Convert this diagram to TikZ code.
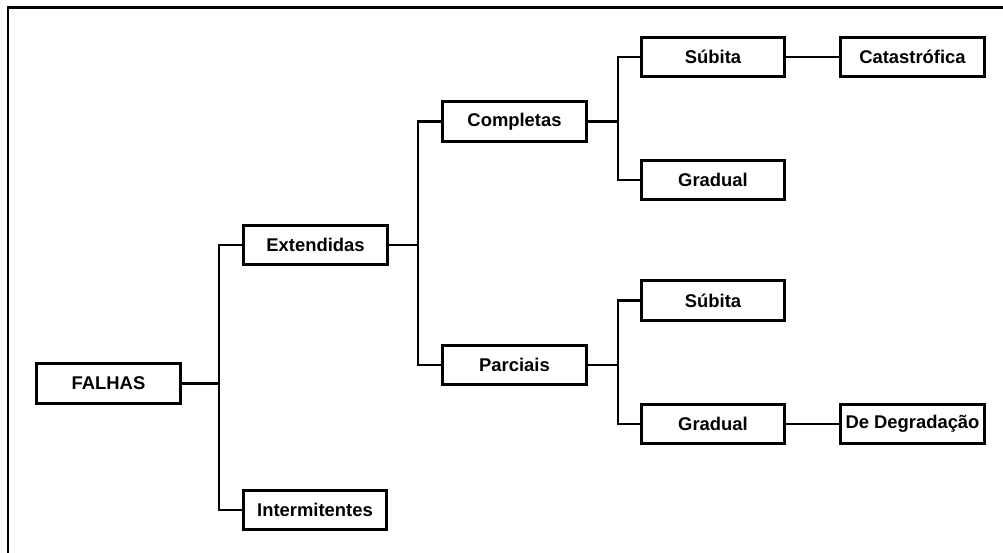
\documentclass[tikz,border=0pt]{standalone}
\usepackage{fontspec}
\setmainfont{Liberation Sans}
\begin{document}
\begin{tikzpicture}[x=1pt,y=-1pt,
  box/.style={draw=black,line width=2.6pt,fill=white,minimum width=143.5pt,minimum height=39.5pt,
    inner sep=0pt,font=\fontsize{18.4}{21}\selectfont\bfseries},
  wire/.style={draw=black,line width=2.4pt},
  frame/.style={draw=black,line width=2.8pt}]
  \useasboundingbox (0,0) rectangle (1003,552);
  \fill[white] (0,0) rectangle (1003,552);
  % outer frame (only top and left edges fall inside the page)
  \coordinate (fbl) at (8,556);
  \coordinate (ftl) at (8,7.5);
  \coordinate (ftr) at (1007,7.5);
  \draw[frame] (fbl) -- (ftl) -- (ftr);

  % boxes
  \node[box] (falhas) at (108.5,383.5) {FALHAS};
  \node[box] (ext)    at (315.5,245)   {Extendidas};
  \node[box] (inter)  at (315,510)     {Intermitentes};
  \node[box] (comp)   at (514.5,121.5) {Completas};
  \node[box] (parc)   at (514.5,365)   {Parciais};
  \node[box] (sub1)   at (713,57)      {Súbita};
  \node[box] (grad1)  at (713,180)     {Gradual};
  \node[box] (sub2)   at (713,300.5)   {Súbita};
  \node[box] (grad2)  at (713,424)     {Gradual};
  \node[box] (cat)    at (912.5,57)    {Catastrófica};
  \node[box] (deg)    at (912.5,424)   {De Degradação};

  % bus coordinates
  \coordinate (b1) at (219,0);
  \coordinate (b2) at (418,0);
  \coordinate (b3) at (618,0);

  % FALHAS branch
  \draw[wire] (falhas.east) -- (falhas.east -| b1);
  \draw[wire] (ext.west) -- (ext.west -| b1) |- (inter.west);

  % Extendidas branch
  \draw[wire] (ext.east) -- (ext.east -| b2);
  \draw[wire] (comp.west) -- (comp.west -| b2) |- (parc.west);

  % Completas branch
  \draw[wire] (comp.east) -- (comp.east -| b3);
  \draw[wire] (sub1.west) -- (sub1.west -| b3) |- (grad1.west);

  % Parciais branch
  \draw[wire] (parc.east) -- (parc.east -| b3);
  \draw[wire] (sub2.west) -- (sub2.west -| b3) |- (grad2.west);

  % leaf links
  \draw[wire] (sub1.east) -- (cat.west);
  \draw[wire] (grad2.east) -- (deg.west);
\end{tikzpicture}
\end{document}
